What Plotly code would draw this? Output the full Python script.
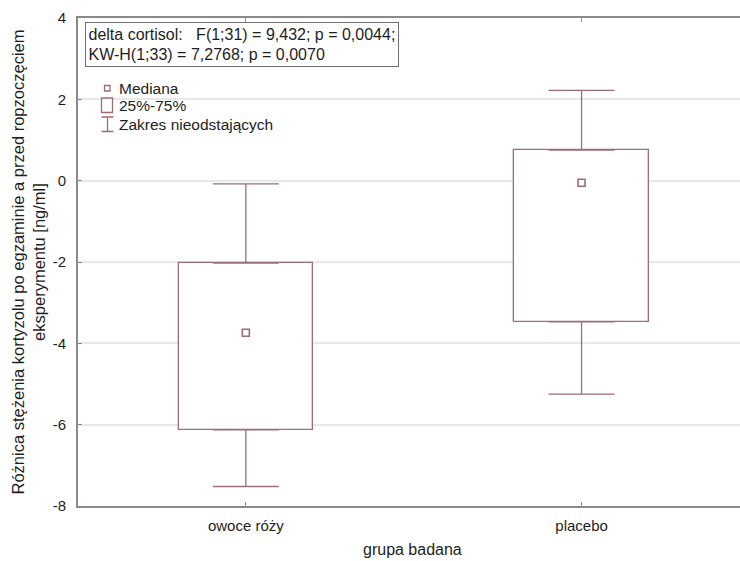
import plotly.graph_objects as go

# Box-plot summary of the cortisol change per study group
groups = ["owoce róży", "placebo"]
q1 = [-6.13, -3.47]
median = [-3.74, -0.05]
q3 = [-2.03, 0.75]
whisker_low = [-7.52, -5.25]
whisker_high = [-0.08, 2.22]

y_ticks = [-8, -6, -4, -2, 0, 2, 4]
y_ticktext = [str(v) for v in y_ticks]

stats_text = ("delta cortisol:\u00a0\u00a0\u00a0F(1;31) = 9,432; p = 0,0044;<br>"
              "KW-H(1;33) = 7,2768; p = 0,0070")
legend_labels = ["Mediana", "25%-75%", "Zakres nieodstających"]
x_title = "grupa badana"
y_title = ("Różnica stężenia kortyzolu po egzaminie a przed ropzoczęciem<br>"
           "eksperymentu [ng/ml]")

BOX_COLOR = "#9b6e73"
AXIS_COLOR = "#8a8a8a"
GRID_COLOR = "#e8e8e8"
TEXT_COLOR = "#1e1e1e"
FONT = "Liberation Sans, Arial, sans-serif"

W, H = 740, 561
ML, MR, MT, MB = 78, 0, 18, 55
PW, PH = W - ML - MR, H - MT - MB


def px(x):
    return (x - ML) / PW


def py(y):
    return (H - MB - y) / PH


xpos = list(range(len(groups)))

fig = go.Figure()

# interquartile boxes
fig.add_trace(go.Bar(
    x=xpos, base=q1, y=[b - a for a, b in zip(q1, q3)], width=0.4,
    marker=dict(color="white", line=dict(color=BOX_COLOR, width=1.3)),
    showlegend=False, hoverinfo="skip",
))

# upper whiskers (from Q3 up)
fig.add_trace(go.Scatter(
    x=xpos, y=q3, mode="markers", marker=dict(size=1, opacity=0),
    error_y=dict(type="data", symmetric=False,
                 array=[h - t for h, t in zip(whisker_high, q3)],
                 arrayminus=[0] * len(groups),
                 color=BOX_COLOR, thickness=1.3, width=33),
    showlegend=False, hoverinfo="skip",
))
# lower whiskers (from Q1 down)
fig.add_trace(go.Scatter(
    x=xpos, y=q1, mode="markers", marker=dict(size=1, opacity=0),
    error_y=dict(type="data", symmetric=False,
                 array=[0] * len(groups),
                 arrayminus=[b - l for b, l in zip(q1, whisker_low)],
                 color=BOX_COLOR, thickness=1.3, width=33),
    showlegend=False, hoverinfo="skip",
))

# medians
fig.add_trace(go.Scatter(
    x=xpos, y=median, mode="markers",
    marker=dict(symbol="square-open", size=7, color=BOX_COLOR,
                line=dict(width=1.6, color=BOX_COLOR)),
    showlegend=False, hoverinfo="skip",
))

shapes = []
# legend glyphs: median square, IQR box, whisker I-beam
shapes.append(dict(type="rect", xref="paper", yref="paper",
                   x0=px(104.5), x1=px(110), y0=py(91), y1=py(85.5),
                   line=dict(color=BOX_COLOR, width=1.3), fillcolor="white"))
shapes.append(dict(type="rect", xref="paper", yref="paper",
                   x0=px(101.5), x1=px(112.5), y0=py(112.5), y1=py(98),
                   line=dict(color=BOX_COLOR, width=1.3), fillcolor="white"))
shapes.append(dict(type="path", xref="paper", yref="paper",
                   path=(f"M {px(101.5)} {py(117)} L {px(113.5)} {py(117)} "
                         f"M {px(107.5)} {py(117)} L {px(107.5)} {py(131.5)} "
                         f"M {px(101.5)} {py(131.5)} L {px(113.5)} {py(131.5)}"),
                   line=dict(color=BOX_COLOR, width=1.3)))

annotations = []
for label, yc in zip(legend_labels, [88.5, 106, 124.5]):
    annotations.append(dict(
        text=label, xref="paper", yref="paper", x=px(117), y=py(yc),
        xanchor="left", yanchor="middle", showarrow=False,
        font=dict(size=15.5, color=TEXT_COLOR, family=FONT),
    ))

# statistics box
annotations.append(dict(
    text=stats_text, xref="paper", yref="paper", x=px(85), y=py(21.5),
    xanchor="left", yanchor="top", align="left", showarrow=False,
    font=dict(size=16, color=TEXT_COLOR, family=FONT),
    bordercolor="#6f6f6f", borderwidth=1, borderpad=2.5, bgcolor="white",
))

# axis titles
annotations.append(dict(
    text=y_title, xref="paper", yref="paper", x=px(27.5), y=py(262),
    xanchor="center", yanchor="middle", textangle=-90, showarrow=False,
    font=dict(size=16.5, color=TEXT_COLOR, family=FONT),
))
annotations.append(dict(
    text=x_title, xref="paper", yref="paper", x=px(412), y=py(549),
    xanchor="center", yanchor="middle", showarrow=False,
    font=dict(size=16, color=TEXT_COLOR, family=FONT),
))

fig.update_layout(
    width=W, height=H,
    margin=dict(l=ML, r=MR, t=MT, b=MB),
    paper_bgcolor="white", plot_bgcolor="white",
    font=dict(family=FONT, size=15, color=TEXT_COLOR),
    shapes=shapes, annotations=annotations,
    showlegend=False, bargap=0,
)
fig.update_xaxes(
    range=[-0.5, 1.472],
    tickmode="array", tickvals=xpos, ticktext=groups,
    showgrid=False, zeroline=False,
    showline=True, linecolor=AXIS_COLOR, linewidth=2, mirror="ticks",
    ticks="inside", ticklen=4, tickcolor=AXIS_COLOR,
    ticklabelstandoff=5,
)
fig.update_yaxes(
    range=[-8, 4], tickmode="array", tickvals=y_ticks, ticktext=y_ticktext,
    showgrid=True, gridcolor=GRID_COLOR, gridwidth=1.5, zeroline=False,
    showline=True, linecolor=AXIS_COLOR, linewidth=2,
    ticks="inside", ticklen=4, tickcolor=AXIS_COLOR,
    ticklabelstandoff=7,
)

fig.write_html("out.html")
